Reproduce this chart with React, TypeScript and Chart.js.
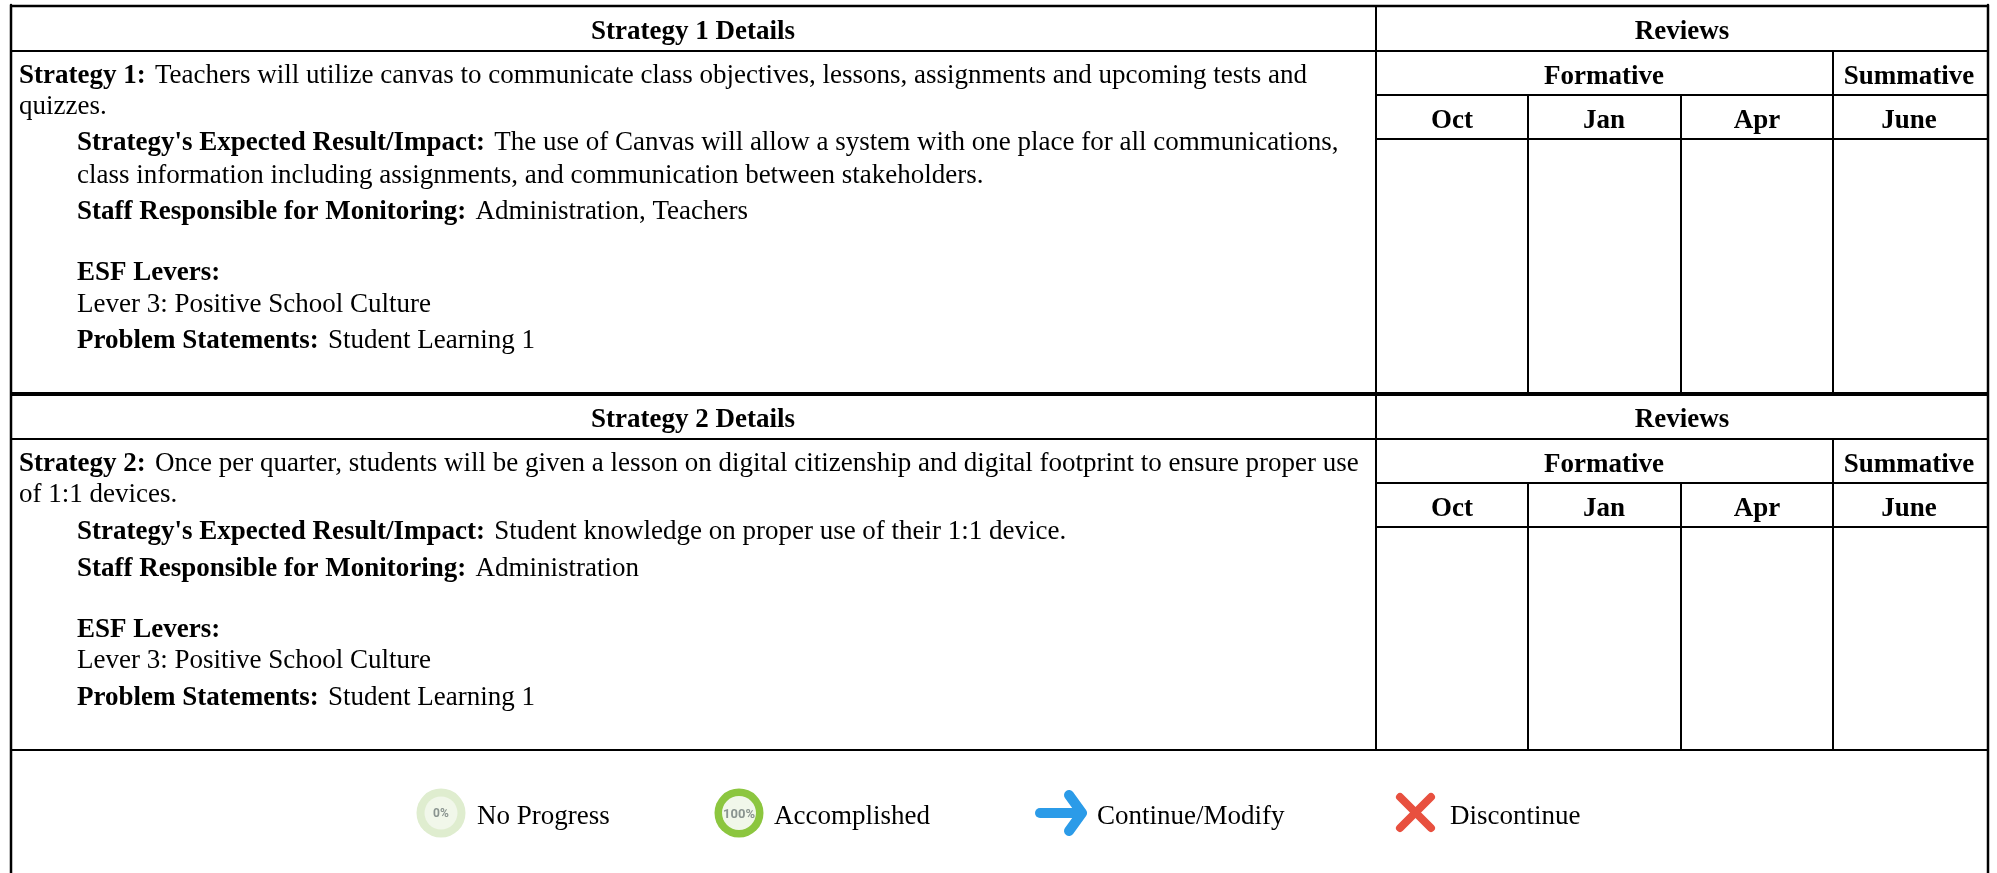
import React, { useEffect, useRef } from "react";
import { Chart, registerables } from "chart.js";

Chart.register(...registerables);

const W = 1997;
const H = 873;
const FONT = '"Liberation Serif"';
const SIZE = 27;
const BOLD_GAP = 2.5;

type Run = { t: string; b?: boolean };
type Line = { x: number; y: number; runs: Run[]; size?: number };

const detailColumns = [
  { label: "Oct", x: 1452 },
  { label: "Jan", x: 1604 },
  { label: "Apr", x: 1757 },
  { label: "June", x: 1909 },
];

const strategyOneBody: Line[] = [
  { x: 19, y: 83, runs: [{ t: "Strategy 1: ", b: true }, { t: "Teachers will utilize canvas to communicate class objectives, lessons, assignments and upcoming tests and" }] },
  { x: 19, y: 114, runs: [{ t: "quizzes." }] },
  { x: 77, y: 150, runs: [{ t: "Strategy's Expected Result/Impact: ", b: true }, { t: "The use of Canvas will allow a system with one place for all communications," }] },
  { x: 77, y: 183, runs: [{ t: "class information including assignments, and communication between stakeholders." }] },
  { x: 77, y: 219, runs: [{ t: "Staff Responsible for Monitoring: ", b: true }, { t: "Administration, Teachers" }] },
  { x: 77, y: 280, runs: [{ t: "ESF Levers:", b: true }] },
  { x: 77, y: 312, runs: [{ t: "Lever 3: Positive School Culture" }] },
  { x: 77, y: 348, runs: [{ t: "Problem Statements: ", b: true }, { t: "Student Learning 1" }] },
];

const strategyTwoBody: Line[] = [
  { x: 19, y: 471, runs: [{ t: "Strategy 2: ", b: true }, { t: "Once per quarter, students will be given a lesson on digital citizenship and digital footprint to ensure proper use" }] },
  { x: 19, y: 502, runs: [{ t: "of 1:1 devices." }] },
  { x: 77, y: 539, runs: [{ t: "Strategy's Expected Result/Impact: ", b: true }, { t: "Student knowledge on proper use of their 1:1 device." }] },
  { x: 77, y: 576, runs: [{ t: "Staff Responsible for Monitoring: ", b: true }, { t: "Administration" }] },
  { x: 77, y: 637, runs: [{ t: "ESF Levers:", b: true }] },
  { x: 77, y: 668, runs: [{ t: "Lever 3: Positive School Culture" }] },
  { x: 77, y: 705, runs: [{ t: "Problem Statements: ", b: true }, { t: "Student Learning 1" }] },
];

const legendLabels: Line[] = [
  { x: 477, y: 824, runs: [{ t: "No Progress" }] },
  { x: 774, y: 824, runs: [{ t: "Accomplished" }] },
  { x: 1097, y: 824, runs: [{ t: "Continue/Modify" }] },
  { x: 1450, y: 824, runs: [{ t: "Discontinue" }] },
];

const thinRules = [
  [[11, 51], [1988, 51]],
  [[1376, 95], [1988, 95]],
  [[1376, 139], [1988, 139]],
  [[11, 439], [1988, 439]],
  [[1376, 483], [1988, 483]],
  [[1376, 527], [1988, 527]],
  [[11, 750], [1988, 750]],
  [[1376, 6], [1376, 750]],
  [[1528, 95], [1528, 394]],
  [[1681, 95], [1681, 394]],
  [[1833, 51], [1833, 394]],
  [[1528, 483], [1528, 750]],
  [[1681, 483], [1681, 750]],
  [[1833, 439], [1833, 750]],
];
const frameRules = [
  [[10, 6], [1989, 6]],
  [[11, 5], [11, 873]],
  [[1988, 5], [1988, 873]],
];
const heavyRule = [[11, 394], [1988, 394]];

const arrowTail = [[1040, 813], [1081, 813]];
const arrowHead = [[1069, 795], [1082, 813], [1069, 831]];
const crossA = [[1400, 797], [1431, 828]];
const crossB = [[1431, 797], [1400, 828]];

const toPts = (s: number[][]) => s.map(([x, y]) => ({ x, y }));
const lineSet = (s: number[][], color: string, width: number, cap: CanvasLineCap = "butt") => ({
  type: "line" as const,
  data: toPts(s),
  borderColor: color,
  borderWidth: width,
  borderCapStyle: cap,
  borderJoinStyle: "round" as CanvasLineJoin,
  pointRadius: 0,
  tension: 0,
  fill: false,
  order: 5,
});
const dotSet = (x: number, y: number, r: number, color: string, order: number) => ({
  type: "scatter" as const,
  data: [{ x, y }],
  backgroundColor: color,
  borderWidth: 0,
  pointRadius: r,
  pointStyle: "circle",
  order,
});

const textPlugin = {
  id: "tableText",
  afterDatasetsDraw(chart: Chart) {
    const { ctx, scales } = chart;
    const px = (v: number) => scales.x.getPixelForValue(v);
    const py = (v: number) => scales.y.getPixelForValue(v);
    ctx.save();
    ctx.fillStyle = "#000";
    ctx.textBaseline = "alphabetic";
    const fontOf = (b: boolean | undefined, size: number) => `${b ? "bold " : ""}${size}px ${FONT}`;
    const drawLine = (l: Line) => {
      let x = px(l.x);
      ctx.textAlign = "left";
      for (const r of l.runs) {
        ctx.font = fontOf(r.b, l.size ?? SIZE);
        ctx.fillText(r.t, x, py(l.y));
        x += ctx.measureText(r.t).width + (r.b ? BOLD_GAP : 0);
      }
    };
    const center = (t: string, x: number, y: number) => {
      ctx.font = fontOf(true, SIZE);
      ctx.textAlign = "center";
      ctx.fillText(t, px(x), py(y));
    };
    [...strategyOneBody, ...strategyTwoBody, ...legendLabels].forEach(drawLine);
    [0, 388].forEach((d, i) => {
      center(`Strategy ${i + 1} Details`, 693, 39 + d);
      center("Reviews", 1682, 39 + d);
      center("Formative", 1604, 84 + d);
      center("Summative", 1909, 84 + d);
      detailColumns.forEach((c) => center(c.label, c.x, 128 + d));
    });
    ctx.textAlign = "center";
    ctx.fillStyle = "#8a9490";
    ctx.font = "bold 12px Roboto";
    ctx.fillText("0%", px(441), py(817));
    ctx.font = "bold 13px Roboto";
    ctx.fillText("100%", px(739), py(818));
    ctx.restore();
  },
};

export default function App() {
  const ref = useRef<HTMLCanvasElement>(null);
  useEffect(() => {
    document.body.style.margin = "0";
    const chart = new Chart(ref.current!, {
      type: "scatter",
      data: {
        datasets: [
          ...thinRules.map((s) => lineSet(s, "#000", 2)),
          ...frameRules.map((s) => lineSet(s, "#000", 2.5)),
          lineSet(heavyRule, "#000", 4),
          dotSet(441, 813, 24.5, "#dfedcf", 4),
          dotSet(441, 813, 16.5, "#f1f7ea", 3),
          dotSet(739, 813, 24.5, "#8cc63f", 4),
          dotSet(739, 813, 17, "#f1f7ea", 3),
          lineSet(arrowTail, "#2b9be8", 10, "round"),
          lineSet(arrowHead, "#2b9be8", 10, "round"),
          lineSet(crossA, "#e8503f", 8, "round"),
          lineSet(crossB, "#e8503f", 8, "round"),
        ] as any,
      },
      options: {
        responsive: false,
        animation: false,
        layout: { padding: 0, autoPadding: false },
        plugins: { legend: { display: false }, tooltip: { enabled: false }, title: { display: false } },
        scales: {
          x: { type: "linear", min: 0, max: W, display: false },
          y: { type: "linear", min: 0, max: H, reverse: true, display: false },
        },
      },
      plugins: [textPlugin],
    });
    return () => chart.destroy();
  }, []);
  return <canvas ref={ref} width={W} height={H} style={{ display: "block", background: "#fff" }} />;
}
